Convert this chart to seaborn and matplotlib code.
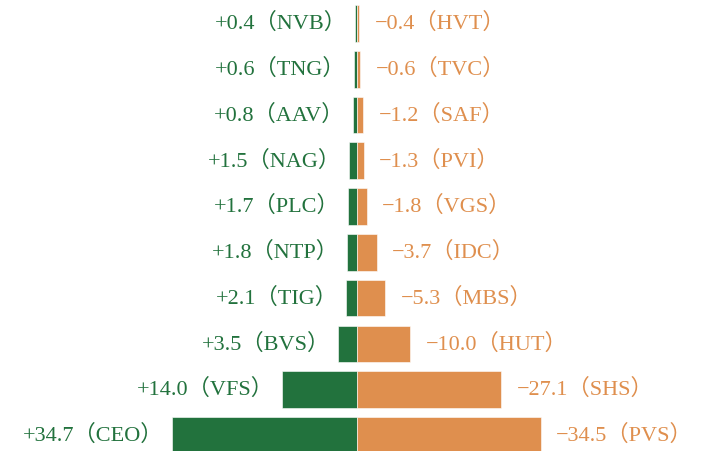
import matplotlib
matplotlib.use("Agg")
import matplotlib.pyplot as plt
import seaborn as sns
import pandas as pd

# top to bottom
buy_codes = ['NVB', 'TNG', 'AAV', 'NAG', 'PLC', 'NTP', 'TIG', 'BVS', 'VFS', 'CEO']
buy_vals = [0.4, 0.6, 0.8, 1.5, 1.7, 1.8, 2.1, 3.5, 14.0, 34.7]
sell_codes = ['HVT', 'TVC', 'SAF', 'PVI', 'VGS', 'IDC', 'MBS', 'HUT', 'SHS', 'PVS']
sell_vals = [-0.4, -0.6, -1.2, -1.3, -1.8, -3.7, -5.3, -10.0, -27.1, -34.5]

GREEN = '#22723d'
ORANGE = '#df8f4e'

sns.set_theme(style='white')
plt.rcParams['font.family'] = ['Liberation Serif', 'Noto Sans CJK SC', 'DejaVu Sans']

rows = list(range(len(buy_codes)))
df_buy = pd.DataFrame({'row': rows, 'x': [-v for v in buy_vals]})
df_sell = pd.DataFrame({'row': rows, 'x': [abs(v) for v in sell_vals]})

fig = plt.figure(figsize=(7.15, 4.51), dpi=100)
ax = fig.add_axes([0, 0, 1, 1])

sns.barplot(data=df_buy, x='x', y='row', orient='h', color=GREEN, saturation=1,
            width=0.8, edgecolor='white', linewidth=0.4, ax=ax)
sns.barplot(data=df_sell, x='x', y='row', orient='h', color=ORANGE, saturation=1,
            width=0.8, edgecolor='white', linewidth=0.4, ax=ax)

for i in rows:
    ax.annotate(f"+{buy_vals[i]:.1f}（{buy_codes[i]}）", xy=(-buy_vals[i], i),
                xytext=(-6, 0), textcoords='offset points', ha='right', va='center',
                color=GREEN, fontsize=16)
    ax.annotate(f"\u2212{abs(sell_vals[i]):.1f}（{sell_codes[i]}）", xy=(abs(sell_vals[i]), i),
                xytext=(11, 0), textcoords='offset points', ha='left', va='center',
                color=ORANGE, fontsize=16)

ax.set_xlim(-67, 67.2)
ax.set_ylim(9.34, -0.513)
ax.axis('off')

fig.savefig('out.png', dpi=100)
